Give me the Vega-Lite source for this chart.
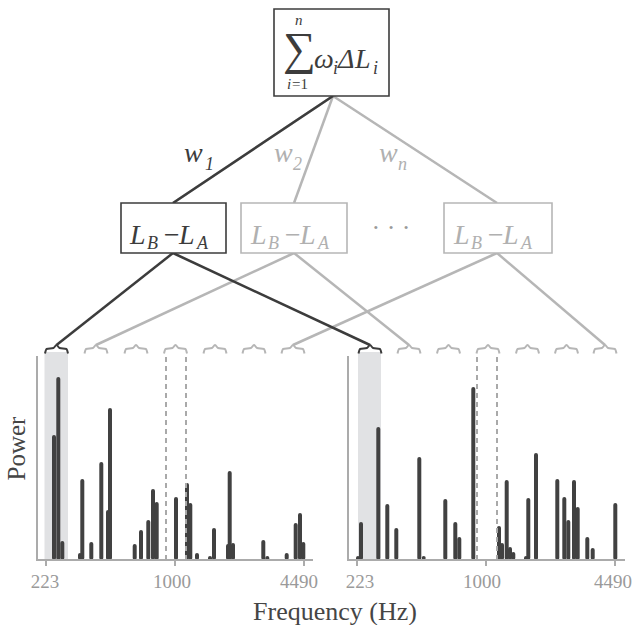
{
  "$schema": "https://vega.github.io/schema/vega-lite/v6.json",
  "width": 636,
  "height": 625,
  "padding": 0,
  "autosize": {"type": "fit", "contains": "padding"},
  "config": {"view": {"stroke": null}, "font": "Liberation Serif"},
  "datasets": {
    "shade": [
      {"x": 44.5, "x2": 68, "y": 352, "y2": 560},
      {"x": 358, "x2": 381, "y": 352, "y2": 560}
    ],
    "bars": [
      {"x": 54, "y": 437}, {"x": 58.3, "y": 379}, {"x": 62.3, "y": 543}, {"x": 80, "y": 555}, {"x": 82.3, "y": 481},
      {"x": 91.3, "y": 544}, {"x": 101.3, "y": 464}, {"x": 108, "y": 512}, {"x": 110, "y": 410}, {"x": 134.7, "y": 546},
      {"x": 141, "y": 532}, {"x": 148.3, "y": 522}, {"x": 153, "y": 491}, {"x": 156.7, "y": 504}, {"x": 176, "y": 499},
      {"x": 187, "y": 485}, {"x": 190.3, "y": 505}, {"x": 197, "y": 555}, {"x": 210, "y": 559}, {"x": 214, "y": 530},
      {"x": 228, "y": 546}, {"x": 229.7, "y": 473}, {"x": 233, "y": 545}, {"x": 263.3, "y": 542}, {"x": 267.3, "y": 559},
      {"x": 286.7, "y": 555}, {"x": 295.7, "y": 525}, {"x": 300, "y": 515}, {"x": 303.3, "y": 544},
      {"x": 358, "y": 559}, {"x": 361, "y": 524}, {"x": 378.3, "y": 429}, {"x": 387.3, "y": 506}, {"x": 396.3, "y": 530},
      {"x": 419.3, "y": 459}, {"x": 423.7, "y": 558}, {"x": 445.3, "y": 501}, {"x": 455.3, "y": 524}, {"x": 459.3, "y": 539},
      {"x": 473.3, "y": 389}, {"x": 499, "y": 528}, {"x": 502, "y": 545}, {"x": 506.7, "y": 482}, {"x": 510, "y": 549},
      {"x": 513.3, "y": 554}, {"x": 526, "y": 559}, {"x": 528.3, "y": 500}, {"x": 536, "y": 455}, {"x": 557.3, "y": 481},
      {"x": 564.3, "y": 499}, {"x": 568.3, "y": 522}, {"x": 574, "y": 482}, {"x": 577.7, "y": 509}, {"x": 587.3, "y": 539},
      {"x": 592.7, "y": 550}, {"x": 615.3, "y": 505}
    ],
    "dashed": [
      {"x": 166, "y": 357, "y2": 560}, {"x": 186, "y": 357, "y2": 560},
      {"x": 477, "y": 357, "y2": 560}, {"x": 497, "y": 357, "y2": 560}
    ],
    "axes": [
      {"x": 37, "y": 356, "x2": 37, "y2": 561}, {"x": 36, "y": 560, "x2": 313, "y2": 560},
      {"x": 46, "y": 560, "x2": 46, "y2": 566}, {"x": 175, "y": 560, "x2": 175, "y2": 566}, {"x": 304, "y": 560, "x2": 304, "y2": 566},
      {"x": 348, "y": 356, "x2": 348, "y2": 561}, {"x": 347, "y": 560, "x2": 625, "y2": 560},
      {"x": 357, "y": 560, "x2": 357, "y2": 566}, {"x": 486, "y": 560, "x2": 486, "y2": 566}, {"x": 615, "y": 560, "x2": 615, "y2": 566}
    ],
    "ticklabels": [
      {"t": "223", "x": 45, "y": 588}, {"t": "1000", "x": 172, "y": 588}, {"t": "4490", "x": 299, "y": 588},
      {"t": "223", "x": 360, "y": 588}, {"t": "1000", "x": 482, "y": 588}, {"t": "4490", "x": 613, "y": 588}
    ],
    "connectors": [
      {"x": 333, "y": 96, "x2": 173, "y2": 203, "k": "g"},
      {"x": 333, "y": 96, "x2": 294, "y2": 203, "k": "g"},
      {"x": 333, "y": 96, "x2": 497, "y2": 203, "k": "g"},
      {"x": 294, "y": 253, "x2": 96, "y2": 345, "k": "g"},
      {"x": 294, "y": 253, "x2": 409, "y2": 345, "k": "g"},
      {"x": 497, "y": 253, "x2": 293, "y2": 345, "k": "g"},
      {"x": 497, "y": 253, "x2": 605, "y2": 345, "k": "g"},
      {"x": 333, "y": 96, "x2": 173, "y2": 203, "k": "a"},
      {"x": 173, "y": 253, "x2": 56.5, "y2": 345, "k": "a"},
      {"x": 173, "y": 253, "x2": 370, "y2": 345, "k": "a"}
    ],
    "braces": [
      {"b": "L1", "k": "a", "o": 0, "x": 45, "y": 353.5}, {"b": "L1", "k": "a", "o": 1, "x": 46.5, "y": 349}, {"b": "L1", "k": "a", "o": 2, "x": 53.5, "y": 348}, {"b": "L1", "k": "a", "o": 3, "x": 56.5, "y": 345}, {"b": "L1", "k": "a", "o": 4, "x": 59.5, "y": 348}, {"b": "L1", "k": "a", "o": 5, "x": 66.5, "y": 349}, {"b": "L1", "k": "a", "o": 6, "x": 68, "y": 353.5},
      {"b": "L2", "k": "g", "o": 0, "x": 84.5, "y": 353.5}, {"b": "L2", "k": "g", "o": 1, "x": 86, "y": 349}, {"b": "L2", "k": "g", "o": 2, "x": 93, "y": 348}, {"b": "L2", "k": "g", "o": 3, "x": 96, "y": 345}, {"b": "L2", "k": "g", "o": 4, "x": 99, "y": 348}, {"b": "L2", "k": "g", "o": 5, "x": 106, "y": 349}, {"b": "L2", "k": "g", "o": 6, "x": 107.5, "y": 353.5},
      {"b": "L3", "k": "g", "o": 0, "x": 124.5, "y": 353.5}, {"b": "L3", "k": "g", "o": 1, "x": 126, "y": 349}, {"b": "L3", "k": "g", "o": 2, "x": 133, "y": 348}, {"b": "L3", "k": "g", "o": 3, "x": 136, "y": 345}, {"b": "L3", "k": "g", "o": 4, "x": 139, "y": 348}, {"b": "L3", "k": "g", "o": 5, "x": 146, "y": 349}, {"b": "L3", "k": "g", "o": 6, "x": 147.5, "y": 353.5},
      {"b": "L4", "k": "g", "o": 0, "x": 164, "y": 353.5}, {"b": "L4", "k": "g", "o": 1, "x": 165.5, "y": 349}, {"b": "L4", "k": "g", "o": 2, "x": 172.5, "y": 348}, {"b": "L4", "k": "g", "o": 3, "x": 175.5, "y": 345}, {"b": "L4", "k": "g", "o": 4, "x": 178.5, "y": 348}, {"b": "L4", "k": "g", "o": 5, "x": 185.5, "y": 349}, {"b": "L4", "k": "g", "o": 6, "x": 187, "y": 353.5},
      {"b": "L5", "k": "g", "o": 0, "x": 203.5, "y": 353.5}, {"b": "L5", "k": "g", "o": 1, "x": 205, "y": 349}, {"b": "L5", "k": "g", "o": 2, "x": 212, "y": 348}, {"b": "L5", "k": "g", "o": 3, "x": 215, "y": 345}, {"b": "L5", "k": "g", "o": 4, "x": 218, "y": 348}, {"b": "L5", "k": "g", "o": 5, "x": 225, "y": 349}, {"b": "L5", "k": "g", "o": 6, "x": 226.5, "y": 353.5},
      {"b": "L6", "k": "g", "o": 0, "x": 242.5, "y": 353.5}, {"b": "L6", "k": "g", "o": 1, "x": 244, "y": 349}, {"b": "L6", "k": "g", "o": 2, "x": 251, "y": 348}, {"b": "L6", "k": "g", "o": 3, "x": 254, "y": 345}, {"b": "L6", "k": "g", "o": 4, "x": 257, "y": 348}, {"b": "L6", "k": "g", "o": 5, "x": 264, "y": 349}, {"b": "L6", "k": "g", "o": 6, "x": 265.5, "y": 353.5},
      {"b": "L7", "k": "g", "o": 0, "x": 281.5, "y": 353.5}, {"b": "L7", "k": "g", "o": 1, "x": 283, "y": 349}, {"b": "L7", "k": "g", "o": 2, "x": 290, "y": 348}, {"b": "L7", "k": "g", "o": 3, "x": 293, "y": 345}, {"b": "L7", "k": "g", "o": 4, "x": 296, "y": 348}, {"b": "L7", "k": "g", "o": 5, "x": 303, "y": 349}, {"b": "L7", "k": "g", "o": 6, "x": 304.5, "y": 353.5},
      {"b": "R1", "k": "a", "o": 0, "x": 358.5, "y": 353.5}, {"b": "R1", "k": "a", "o": 1, "x": 360, "y": 349}, {"b": "R1", "k": "a", "o": 2, "x": 367, "y": 348}, {"b": "R1", "k": "a", "o": 3, "x": 370, "y": 345}, {"b": "R1", "k": "a", "o": 4, "x": 373, "y": 348}, {"b": "R1", "k": "a", "o": 5, "x": 380, "y": 349}, {"b": "R1", "k": "a", "o": 6, "x": 381.5, "y": 353.5},
      {"b": "R2", "k": "g", "o": 0, "x": 397.5, "y": 353.5}, {"b": "R2", "k": "g", "o": 1, "x": 399, "y": 349}, {"b": "R2", "k": "g", "o": 2, "x": 406, "y": 348}, {"b": "R2", "k": "g", "o": 3, "x": 409, "y": 345}, {"b": "R2", "k": "g", "o": 4, "x": 412, "y": 348}, {"b": "R2", "k": "g", "o": 5, "x": 419, "y": 349}, {"b": "R2", "k": "g", "o": 6, "x": 420.5, "y": 353.5},
      {"b": "R3", "k": "g", "o": 0, "x": 437, "y": 353.5}, {"b": "R3", "k": "g", "o": 1, "x": 438.5, "y": 349}, {"b": "R3", "k": "g", "o": 2, "x": 445.5, "y": 348}, {"b": "R3", "k": "g", "o": 3, "x": 448.5, "y": 345}, {"b": "R3", "k": "g", "o": 4, "x": 451.5, "y": 348}, {"b": "R3", "k": "g", "o": 5, "x": 458.5, "y": 349}, {"b": "R3", "k": "g", "o": 6, "x": 460, "y": 353.5},
      {"b": "R4", "k": "g", "o": 0, "x": 476.5, "y": 353.5}, {"b": "R4", "k": "g", "o": 1, "x": 478, "y": 349}, {"b": "R4", "k": "g", "o": 2, "x": 485, "y": 348}, {"b": "R4", "k": "g", "o": 3, "x": 488, "y": 345}, {"b": "R4", "k": "g", "o": 4, "x": 491, "y": 348}, {"b": "R4", "k": "g", "o": 5, "x": 498, "y": 349}, {"b": "R4", "k": "g", "o": 6, "x": 499.5, "y": 353.5},
      {"b": "R5", "k": "g", "o": 0, "x": 516, "y": 353.5}, {"b": "R5", "k": "g", "o": 1, "x": 517.5, "y": 349}, {"b": "R5", "k": "g", "o": 2, "x": 524.5, "y": 348}, {"b": "R5", "k": "g", "o": 3, "x": 527.5, "y": 345}, {"b": "R5", "k": "g", "o": 4, "x": 530.5, "y": 348}, {"b": "R5", "k": "g", "o": 5, "x": 537.5, "y": 349}, {"b": "R5", "k": "g", "o": 6, "x": 539, "y": 353.5},
      {"b": "R6", "k": "g", "o": 0, "x": 555, "y": 353.5}, {"b": "R6", "k": "g", "o": 1, "x": 556.5, "y": 349}, {"b": "R6", "k": "g", "o": 2, "x": 563.5, "y": 348}, {"b": "R6", "k": "g", "o": 3, "x": 566.5, "y": 345}, {"b": "R6", "k": "g", "o": 4, "x": 569.5, "y": 348}, {"b": "R6", "k": "g", "o": 5, "x": 576.5, "y": 349}, {"b": "R6", "k": "g", "o": 6, "x": 578, "y": 353.5},
      {"b": "R7", "k": "g", "o": 0, "x": 593.5, "y": 353.5}, {"b": "R7", "k": "g", "o": 1, "x": 595, "y": 349}, {"b": "R7", "k": "g", "o": 2, "x": 602, "y": 348}, {"b": "R7", "k": "g", "o": 3, "x": 605, "y": 345}, {"b": "R7", "k": "g", "o": 4, "x": 608, "y": 348}, {"b": "R7", "k": "g", "o": 5, "x": 615, "y": 349}, {"b": "R7", "k": "g", "o": 6, "x": 616.5, "y": 353.5}
    ],
    "boxes": [
      {"x": 274, "x2": 389, "y": 9, "y2": 96, "k": "a"},
      {"x": 121, "x2": 226, "y": 203, "y2": 253, "k": "a"},
      {"x": 241, "x2": 347, "y": 203, "y2": 253, "k": "g"},
      {"x": 444, "x2": 552, "y": 203, "y2": 253, "k": "g"}
    ],
    "mathMain": [
      {"t": "L", "x": 130, "y": 244, "k": "a"}, {"t": "−", "x": 162, "y": 244, "k": "a"}, {"t": "L", "x": 179, "y": 244, "k": "a"},
      {"t": "L", "x": 251, "y": 244, "k": "g"}, {"t": "−", "x": 283, "y": 244, "k": "g"}, {"t": "L", "x": 300, "y": 244, "k": "g"},
      {"t": "L", "x": 454, "y": 244, "k": "g"}, {"t": "−", "x": 486, "y": 244, "k": "g"}, {"t": "L", "x": 503, "y": 244, "k": "g"},
      {"t": "w", "x": 184, "y": 162, "k": "a"}, {"t": "w", "x": 274, "y": 162, "k": "g"}, {"t": "w", "x": 379, "y": 162, "k": "g"},
      {"t": "ω", "x": 314, "y": 68, "k": "a"}, {"t": "Δ", "x": 338, "y": 68, "k": "a"}, {"t": "L", "x": 355, "y": 68, "k": "a"}
    ],
    "mathSub": [
      {"t": "B", "x": 147, "y": 249, "k": "a"}, {"t": "A", "x": 197, "y": 249, "k": "a"},
      {"t": "B", "x": 268, "y": 249, "k": "g"}, {"t": "A", "x": 318, "y": 249, "k": "g"},
      {"t": "B", "x": 471, "y": 249, "k": "g"}, {"t": "A", "x": 521, "y": 249, "k": "g"},
      {"t": "1", "x": 205, "y": 170, "k": "a"}, {"t": "2", "x": 293, "y": 170, "k": "g"}, {"t": "n", "x": 398, "y": 170, "k": "g"},
      {"t": "i", "x": 333, "y": 74, "k": "a"}, {"t": "i", "x": 373, "y": 74, "k": "a"}
    ],
    "limits": [
      {"t": "n", "x": 295, "y": 25, "k": "a"}, {"t": "i", "x": 287, "y": 89, "k": "a"}
    ],
    "uprightSub": [
      {"t": "=1", "x": 292, "y": 89, "k": "a"}
    ],
    "sigma": [
      {"t": "∑", "x": 299.5, "y": 50, "k": "a"}
    ],
    "dots": [
      {"t": "· · ·", "x": 391, "y": 228, "k": "g"}
    ],
    "ytitle": [
      {"t": "Power", "x": 17, "y": 448.5}
    ],
    "xtitle": [
      {"t": "Frequency (Hz)", "x": 335, "y": 620}
    ]
  },
  "encoding": {
    "x": {"field": "x", "type": "quantitative", "scale": {"domain": [0, 636], "nice": false, "zero": false}, "axis": null},
    "y": {"field": "y", "type": "quantitative", "scale": {"domain": [0, 625], "nice": false, "zero": false, "reverse": true}, "axis": null}
  },
  "layer": [
    {
      "data": {"name": "shade"},
      "mark": {"type": "rect", "fill": "#e1e2e4"},
      "encoding": {"x2": {"field": "x2"}, "y2": {"field": "y2"}}
    },
    {
      "data": {"name": "bars"},
      "mark": {"type": "rule", "strokeWidth": 4, "strokeCap": "round", "color": "#414141"},
      "encoding": {"y2": {"datum": 558}}
    },
    {
      "data": {"name": "dashed"},
      "mark": {"type": "rule", "strokeWidth": 2, "strokeDash": [5, 4], "color": "#a9a9a9"},
      "encoding": {"y2": {"field": "y2"}}
    },
    {
      "data": {"name": "axes"},
      "mark": {"type": "rule", "strokeWidth": 2, "color": "#ababab"},
      "encoding": {"x2": {"field": "x2"}, "y2": {"field": "y2"}}
    },
    {
      "data": {"name": "ticklabels"},
      "mark": {"type": "text", "fontSize": 19, "align": "center", "baseline": "alphabetic", "color": "#9a9a9a", "font": "Liberation Serif"},
      "encoding": {"text": {"field": "t"}}
    },
    {
      "data": {"name": "connectors"},
      "mark": {"type": "rule", "strokeWidth": 2.5},
      "encoding": {
        "x2": {"field": "x2"}, "y2": {"field": "y2"},
        "stroke": {"field": "k", "type": "nominal", "scale": {"domain": ["a", "g"], "range": ["#3c3c3c", "#b6b6b6"]}, "legend": null}
      }
    },
    {
      "data": {"name": "braces"},
      "mark": {"type": "line", "strokeWidth": 2, "interpolate": "monotone"},
      "encoding": {
        "detail": {"field": "b"},
        "order": {"field": "o"},
        "stroke": {"field": "k", "type": "nominal", "scale": {"domain": ["a", "g"], "range": ["#3c3c3c", "#b6b6b6"]}, "legend": null}
      }
    },
    {
      "data": {"name": "boxes"},
      "mark": {"type": "rect", "fill": "white", "strokeWidth": 1.6},
      "encoding": {
        "x2": {"field": "x2"}, "y2": {"field": "y2"},
        "stroke": {"field": "k", "type": "nominal", "scale": {"domain": ["a", "g"], "range": ["#3c3c3c", "#b6b6b6"]}, "legend": null}
      }
    },
    {
      "data": {"name": "mathMain"},
      "mark": {"type": "text", "fontSize": 28, "fontStyle": "italic", "align": "left", "baseline": "alphabetic", "font": "Liberation Serif"},
      "encoding": {
        "text": {"field": "t"},
        "color": {"field": "k", "type": "nominal", "scale": {"domain": ["a", "g"], "range": ["#3c3c3c", "#b0b0b0"]}, "legend": null}
      }
    },
    {
      "data": {"name": "mathSub"},
      "mark": {"type": "text", "fontSize": 18, "fontStyle": "italic", "align": "left", "baseline": "alphabetic", "font": "Liberation Serif"},
      "encoding": {
        "text": {"field": "t"},
        "color": {"field": "k", "type": "nominal", "scale": {"domain": ["a", "g"], "range": ["#3c3c3c", "#b0b0b0"]}, "legend": null}
      }
    },
    {
      "data": {"name": "limits"},
      "mark": {"type": "text", "fontSize": 15, "fontStyle": "italic", "align": "left", "baseline": "alphabetic", "font": "Liberation Serif", "color": "#3c3c3c"},
      "encoding": {"text": {"field": "t"}}
    },
    {
      "data": {"name": "uprightSub"},
      "mark": {"type": "text", "fontSize": 15, "align": "left", "baseline": "alphabetic", "font": "Liberation Serif", "color": "#3c3c3c"},
      "encoding": {"text": {"field": "t"}}
    },
    {
      "data": {"name": "sigma"},
      "mark": {"type": "text", "fontSize": 46, "align": "center", "baseline": "middle", "font": "Liberation Serif", "color": "#3c3c3c"},
      "encoding": {"text": {"field": "t"}}
    },
    {
      "data": {"name": "dots"},
      "mark": {"type": "text", "fontSize": 26, "align": "center", "baseline": "middle", "font": "Liberation Serif", "color": "#9a9a9a"},
      "encoding": {"text": {"field": "t"}}
    },
    {
      "data": {"name": "ytitle"},
      "mark": {"type": "text", "fontSize": 25, "align": "center", "baseline": "middle", "angle": 270, "font": "Liberation Serif", "color": "#454545"},
      "encoding": {"text": {"field": "t"}}
    },
    {
      "data": {"name": "xtitle"},
      "mark": {"type": "text", "fontSize": 26, "align": "center", "baseline": "alphabetic", "font": "Liberation Serif", "color": "#454545"},
      "encoding": {"text": {"field": "t"}}
    }
  ]
}
